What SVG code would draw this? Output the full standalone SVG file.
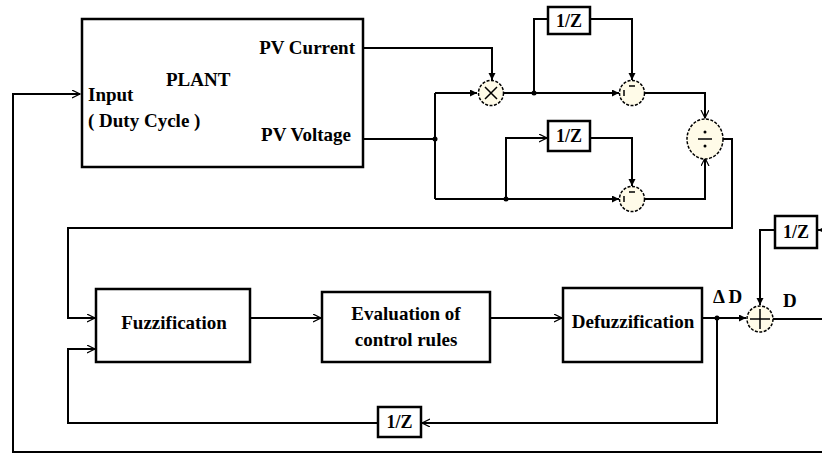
<svg xmlns="http://www.w3.org/2000/svg" width="822" height="454" viewBox="0 0 822 454">
<style>
.box{fill:#fff;stroke:#000;stroke-width:2.5}
.wire{fill:none;stroke:#000;stroke-width:2}
.op{fill:#fffbe8;stroke:#000;stroke-width:1.5;stroke-dasharray:3 1.5}
.t{font-family:'Liberation Serif','DejaVu Serif',serif;font-weight:700;font-size:19px;fill:#000}
.z{font-family:'Liberation Serif','DejaVu Serif',serif;font-weight:700;font-size:18px;fill:#000}
.sym{stroke:#000;stroke-width:1.5;fill:none}
</style>
<defs>
<marker id="open" markerWidth="10" markerHeight="10" refX="8" refY="4" orient="auto" markerUnits="userSpaceOnUse">
<path d="M0,0 L8,4 L0,8" fill="none" stroke="#000" stroke-width="1.2"/>
</marker>
<marker id="fill" markerWidth="10" markerHeight="10" refX="7" refY="3.5" orient="auto" markerUnits="userSpaceOnUse">
<path d="M0,0 L7,3.5 L0,7 z" fill="#000"/>
</marker>
</defs>
<rect width="822" height="454" fill="#fff"/>

<g id="connectors">
<polyline class="wire" points="822,452 13,452 13,94 80,94" marker-end="url(#open)"/>
<polyline class="wire" points="363,48 492,48 492,80" marker-end="url(#fill)"/>
<polyline class="wire" points="363,139 435,139"/>
<polyline class="wire" points="435,93 435,199"/>
<polyline class="wire" points="435,93 477,93" marker-end="url(#fill)"/>
<polyline class="wire" points="435,199 619,199" marker-end="url(#fill)"/>
<polyline class="wire" points="504,93 619,93" marker-end="url(#fill)"/>
<polyline class="wire" points="534,93 534,19 548,19"/>
<polyline class="wire" points="590,19 632,19 632,80" marker-end="url(#fill)"/>
<polyline class="wire" points="506,199 506,138 547,138" marker-end="url(#open)"/>
<polyline class="wire" points="590,138 632,138 632,186" marker-end="url(#fill)"/>
<polyline class="wire" points="645,93 705,93 705,118" marker-end="url(#open)"/>
<polyline class="wire" points="645,199 705,199 705,158" marker-end="url(#open)"/>
<polyline class="wire" points="723,139 732,139 732,228 68,228 68,318 95,318" marker-end="url(#open)"/>
<polyline class="wire" points="250,318 321,318" marker-end="url(#open)"/>
<polyline class="wire" points="490,318 562,318" marker-end="url(#open)"/>
<polyline class="wire" points="702,318 746,318" marker-end="url(#fill)"/>
<polyline class="wire" points="717,318 717,423 422,423" marker-end="url(#open)"/>
<polyline class="wire" points="378,423 68,423 68,349 95,349" marker-end="url(#open)"/>
<polyline class="wire" points="822,230 818,230" marker-end="url(#fill)"/>
<polyline class="wire" points="775,230 760,230 760,305" marker-end="url(#fill)"/>
<polyline class="wire" points="773,319 822,319"/>
<circle cx="435" cy="139" r="2.5" fill="#000"/>
<circle cx="534" cy="93" r="2.5" fill="#000"/>
<circle cx="506" cy="199" r="2.5" fill="#000"/>
<circle cx="717" cy="318" r="2.5" fill="#000"/>
</g>

<g id="plant">
<rect class="box" x="82" y="19" width="281" height="148"/>
<text class="t" x="166" y="86">PLANT</text>
<text class="t" x="88" y="101">Input</text>
<text class="t" x="88" y="127">( Duty Cycle )</text>
<text class="t" x="355" y="54" text-anchor="end">PV Current</text>
<text class="t" x="351" y="141" text-anchor="end">PV Voltage</text>
</g>

<g id="multiplier">
<circle class="op" cx="491" cy="93" r="12.5"/>
<path class="sym" d="M485,87 L497,99 M497,87 L485,99" stroke-width="1"/>
</g>

<g id="delay_current">
<rect class="box" x="548" y="7" width="42" height="27"/>
<text class="z" x="569" y="27" text-anchor="middle">1/Z</text>
</g>

<g id="sub_current">
<circle class="op" cx="632" cy="93" r="12.5"/>
<line class="sym" x1="629" y1="86" x2="635" y2="86"/>
<line class="sym" x1="624" y1="90" x2="624" y2="96"/>
</g>

<g id="delay_voltage">
<rect class="box" x="548" y="121" width="42" height="30"/>
<text class="z" x="569" y="142" text-anchor="middle">1/Z</text>
</g>

<g id="sub_voltage">
<circle class="op" cx="632" cy="199" r="12.5"/>
<line class="sym" x1="629" y1="192" x2="635" y2="192"/>
<line class="sym" x1="624" y1="196" x2="624" y2="202"/>
</g>

<g id="divider">
<ellipse class="op" cx="705" cy="139" rx="18" ry="20"/>
<line class="sym" x1="698" y1="139" x2="712" y2="139"/>
<circle cx="705" cy="132" r="1.5" fill="#000"/>
<circle cx="705" cy="146" r="1.5" fill="#000"/>
</g>

<g id="fuzzification">
<rect class="box" x="96" y="289" width="154" height="73"/>
<text class="t" x="174" y="329" text-anchor="middle">Fuzzification</text>
</g>

<g id="evaluation">
<rect class="box" x="322" y="292" width="168" height="70"/>
<text class="t" x="406" y="320" text-anchor="middle">Evaluation of</text>
<text class="t" x="406" y="346" text-anchor="middle">control rules</text>
</g>

<g id="defuzzification">
<rect class="box" x="563" y="288" width="139" height="74"/>
<text class="t" x="633" y="328" text-anchor="middle">Defuzzification</text>
</g>

<g id="delay_feedback">
<rect class="box" x="378" y="407" width="43" height="30"/>
<text class="z" x="399.5" y="428" text-anchor="middle">1/Z</text>
</g>

<g id="sum">
<circle class="op" cx="760" cy="319" r="13"/>
<path class="sym" d="M750,319 L770,319 M760,309 L760,329" stroke-width="1.2"/>
</g>

<g id="delay_d">
<rect class="box" x="775" y="216" width="42" height="32"/>
<text class="z" x="796" y="238" text-anchor="middle">1/Z</text>
</g>

<g id="labels">
<text class="t" x="713" y="303">Δ D</text>
<text class="t" x="783" y="307">D</text>
</g>
</svg>
